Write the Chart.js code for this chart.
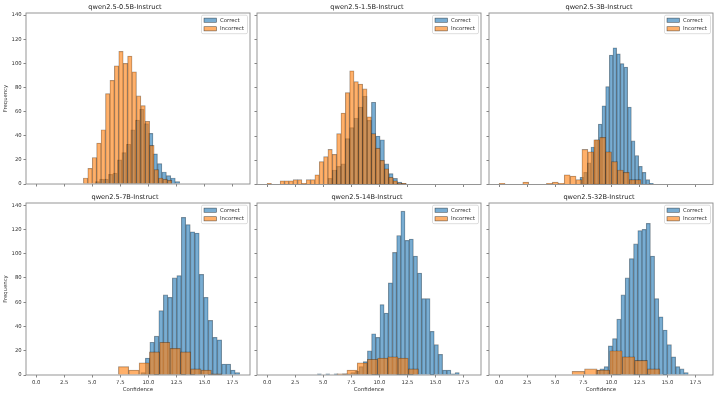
<!DOCTYPE html>
<html>
<head>
<meta charset="utf-8">
<script src="https://cdn.jsdelivr.net/npm/chart.js@4.4.1/dist/chart.umd.min.js"></script>
<style>
  html, body { margin: 0; padding: 0; background: #fff; }
  #fig { position: relative; width: 717px; height: 396px; overflow: hidden; }
  #fig canvas { position: absolute; }
</style>
</head>
<body>
<div id="fig"></div>
<script>
const titles = ['qwen2.5-0.5B-Instruct', 'qwen2.5-1.5B-Instruct', 'qwen2.5-3B-Instruct',
                'qwen2.5-7B-Instruct', 'qwen2.5-14B-Instruct', 'qwen2.5-32B-Instruct'];

// histogram bins: first edge + width (confidence units), one entry per model
const correctStart = [5.25, 5.42, 7.2, 9.33, 4.47, 8.6];
const correctWidth = [0.397, 0.387, 0.327, 0.4, 0.372, 0.375];
const incorrectStart = [4.21, 0, 0, 7.33, 6.2, 6.49];
const incorrectWidth = [0.394, 0.387, 0.527, 0.92, 0.91, 1.12];

// counts per bin
const correct05 = [2, 4, 4, 8, 9, 20, 26, 33, 45, 53, 62, 50, 42, 25, 17, 10, 7, 5, 2];
const incorrect05 = [5, 13, 22, 34, 45, 75, 86, 98, 110, 100, 106, 93, 73, 65, 52, 32, 12, 5, 4, 3];
const correct15 = [5, 12, 15, 17, 38, 47, 55, 64, 73, 53, 68, 40, 37, 17, 9, 5, 2, 1];
const incorrect15 = [1, 0, 0, 3, 3, 3, 4, 4, 1, 4, 4, 8, 19, 23, 29, 25, 42, 59, 76, 94,
                     85, 83, 79, 56, 42, 30, 20, 13, 6, 3, 1, 1];
const correct3 = [6, 10, 18, 31, 37, 50, 65, 81, 107, 113, 108, 100, 97, 64, 36, 24, 15, 10, 4, 1];
const incorrect3 = [1, 0, 0, 0, 2, 0, 0, 0, 1, 2, 1, 8, 7, 4, 29, 27, 37, 39, 27, 19, 12, 10, 4, 4];
const correct7 = [2, 14, 27, 32, 53, 66, 64, 80, 82, 130, 124, 118, 117, 83, 64, 45, 31, 29, 9, 9, 4, 2];
const incorrect7 = [7, 4, 10, 19, 27, 22, 19, 5, 4, 1];
const correct14 = [1, 0, 1, 0, 1, 0, 1, 1, 2, 3, 7, 11, 20, 34, 31, 58, 51, 76, 101, 115,
                   135, 111, 112, 98, 84, 63, 63, 36, 25, 17, 4, 4, 1, 2];
const incorrect14 = [1, 4, 10, 13, 14, 15, 14, 5];
const correct32 = [4, 5, 7, 24, 30, 46, 66, 80, 96, 108, 119, 120, 125, 98, 63, 48, 37, 25, 15, 7, 5, 2];
const incorrect32 = [3, 5, 4, 20, 15, 12, 5];

const correctCounts = [correct05, correct15, correct3, correct7, correct14, correct32];
const incorrectCounts = [incorrect05, incorrect15, incorrect3, incorrect7, incorrect14, incorrect32];

const xTicks = [0, 2.5, 5, 7.5, 10, 12.5, 15, 17.5];
const xTickLabels = ['0.0', '2.5', '5.0', '7.5', '10.0', '12.5', '15.0', '17.5'];
const yTicks = [0, 20, 40, 60, 80, 100, 120, 140];
const xMin = -0.9, xMax = 19.05, yMax = 141.75;

const BLUE = 'rgba(31, 119, 180, 0.6)';
const ORANGE = 'rgba(255, 127, 14, 0.62)';
const EDGE = 'rgba(0, 0, 0, 0.42)';
const FONT = 'DejaVu Sans';

// where each panel sits in the figure
const cols = [{ left: 0, axisW: 26, w: 253 }, { left: 253, axisW: 4, w: 232 }, { left: 485, axisW: 4, w: 232 }];
const rows = [{ top: 1, h: 188, axisH: 4.5 }, { top: 191, h: 205, axisH: 21 }];
const PLOT_W = 224;

function toBars(start, width, counts) {
    return counts.map((n, i) => ({ x: start + width * (i + 0.5), y: n }));
}

const framePlugin = {
    id: 'frame',
    afterDatasetsDraw(chart) {
        const { ctx, chartArea: a } = chart;
        ctx.save();
        ctx.strokeStyle = '#8a8a8a';
        ctx.lineWidth = 0.9;
        ctx.strokeRect(a.left, a.top, a.right - a.left, a.bottom - a.top);
        ctx.restore();
    }
};

// legend box in the upper right corner of the axes
const legendPlugin = {
    id: 'boxLegend',
    afterDraw(chart) {
        const { ctx, chartArea: a } = chart;
        const w = 46, h = 18.5;
        const x0 = a.right - 2.5 - w, y0 = a.top + 2.2;
        ctx.save();
        ctx.fillStyle = 'rgba(255,255,255,0.8)';
        ctx.strokeStyle = '#d4d4d4';
        ctx.lineWidth = 0.8;
        ctx.beginPath();
        if (ctx.roundRect) ctx.roundRect(x0, y0, w, h, 1.5); else ctx.rect(x0, y0, w, h);
        ctx.fill();
        ctx.stroke();
        ctx.font = `5.4px "${FONT}"`;
        ctx.textBaseline = 'middle';
        chart.data.datasets.forEach((ds, i) => {
            const cy = y0 + 5 + i * 8.6;
            ctx.fillStyle = ds.backgroundColor;
            ctx.fillRect(x0 + 2.5, cy - 2.1, 12.5, 4.2);
            ctx.strokeStyle = 'rgba(0,0,0,0.6)';
            ctx.lineWidth = 0.6;
            ctx.strokeRect(x0 + 2.5, cy - 2.1, 12.5, 4.2);
            ctx.fillStyle = '#333';
            ctx.fillText(ds.label, x0 + 18.5, cy);
        });
        ctx.restore();
    }
};

const fig = document.getElementById('fig');

titles.forEach((title, p) => {
    const r = Math.floor(p / 3), c = p % 3;
    const col = cols[c], row = rows[r];
    const canvas = document.createElement('canvas');
    canvas.width = col.w;
    canvas.height = row.h;
    canvas.style.left = col.left + 'px';
    canvas.style.top = row.top + 'px';
    fig.appendChild(canvas);

    const barStyle = { borderColor: EDGE, borderWidth: 0.55, grouped: false, barPercentage: 1, categoryPercentage: 1 };
    const tickGrid = { drawOnChartArea: false, drawTicks: true, tickLength: 2.5, color: '#666', lineWidth: 0.8, offset: false };
    const tickFont = { family: FONT, size: 5.3 };

    new Chart(canvas, {
        type: 'bar',
        data: {
            datasets: [
                // orange is drawn last (on top), as in the original plot
                { label: 'Correct', data: toBars(correctStart[p], correctWidth[p], correctCounts[p]),
                  xAxisID: 'x', backgroundColor: BLUE, order: 1, ...barStyle },
                { label: 'Incorrect', data: toBars(incorrectStart[p], incorrectWidth[p], incorrectCounts[p]),
                  xAxisID: 'x2', backgroundColor: ORANGE, order: 0, ...barStyle }
            ]
        },
        options: {
            responsive: false,
            animation: false,
            devicePixelRatio: 1,
            layout: { padding: { left: 0, top: 0, bottom: 0, right: col.w - col.axisW - PLOT_W } },
            plugins: {
                legend: { display: false },
                tooltip: { enabled: false },
                title: {
                    display: true, text: title, color: '#222',
                    font: { family: FONT, size: 6.6, weight: 'normal', lineHeight: '8px' },
                    padding: { top: 2, bottom: 2 }
                }
            },
            scales: {
                x: {
                    type: 'linear', position: 'bottom', min: xMin, max: xMax, offset: false,
                    afterBuildTicks: s => { s.ticks = xTicks.map(v => ({ value: v })); },
                    afterFit: s => { s.height = row.axisH; },
                    grid: tickGrid,
                    border: { display: false },
                    ticks: { display: r === 1, padding: 1.5, color: '#333', font: tickFont,
                             autoSkip: false, maxRotation: 0, callback: (v, i) => xTickLabels[i] },
                    title: { display: r === 1, text: 'Confidence', color: '#333',
                             font: { family: FONT, size: 5.4 }, padding: { top: 0, bottom: 3 } }
                },
                x2: {
                    type: 'linear', position: 'bottom', display: false, min: xMin, max: xMax, offset: false,
                    grid: { offset: false },
                    afterBuildTicks: s => { s.ticks = xTicks.map(v => ({ value: v })); }
                },
                y: {
                    type: 'linear', min: 0, max: yMax,
                    afterBuildTicks: s => { s.ticks = yTicks.map(v => ({ value: v })); },
                    afterFit: s => { s.width = col.axisW; },
                    grid: tickGrid,
                    border: { display: false },
                    ticks: { display: c === 0, padding: 1.8, color: '#333', font: tickFont },
                    title: { display: c === 0, text: 'Frequency', color: '#333',
                             font: { family: FONT, size: 5.3 }, padding: { top: 2.5, bottom: 0 } }
                }
            }
        },
        plugins: [framePlugin, legendPlugin]
    });
});
</script>
</body>
</html>
